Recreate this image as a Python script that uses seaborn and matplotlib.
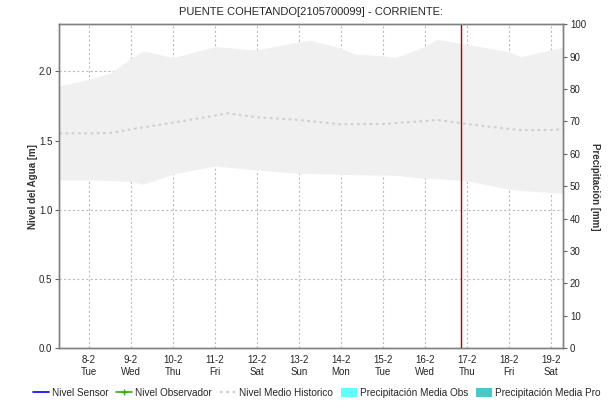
import pandas as pd
import seaborn as sns
import matplotlib.pyplot as plt
import matplotlib.dates as mdates
from matplotlib.lines import Line2D
from matplotlib.patches import Patch

# historical band (min / max) and median water level [m]
band_times = ["2022-02-07 07:00", "2022-02-08 00:00", "2022-02-08 12:00", "2022-02-09 00:00",
              "2022-02-09 07:00", "2022-02-10 00:00", "2022-02-11 00:00", "2022-02-12 00:00",
              "2022-02-13 00:00", "2022-02-13 07:00", "2022-02-14 00:00", "2022-02-14 08:00",
              "2022-02-15 00:00", "2022-02-15 07:00", "2022-02-16 00:00", "2022-02-16 07:00",
              "2022-02-17 00:00", "2022-02-18 00:00", "2022-02-18 07:00", "2022-02-19 00:00",
              "2022-02-19 07:00"]
band_max = [1.895, 1.944, 1.987, 2.095, 2.148, 2.100, 2.180, 2.155, 2.215, 2.225, 2.168,
            2.126, 2.114, 2.100, 2.180, 2.233, 2.196, 2.143, 2.107, 2.155, 2.175]
band_min = [1.216, 1.216, 1.212, 1.204, 1.185, 1.259, 1.317, 1.288, 1.264, 1.262, 1.257,
            1.254, 1.252, 1.250, 1.228, 1.226, 1.210, 1.150, 1.140, 1.125, 1.122]

median_times = ["2022-02-07 07:00", "2022-02-08 00:00", "2022-02-08 12:00", "2022-02-09 00:00",
                "2022-02-10 00:00", "2022-02-11 00:00", "2022-02-11 07:00", "2022-02-12 00:00",
                "2022-02-13 00:00", "2022-02-14 00:00", "2022-02-15 00:00", "2022-02-16 00:00",
                "2022-02-16 07:00", "2022-02-17 00:00", "2022-02-18 00:00", "2022-02-18 07:00",
                "2022-02-19 00:00", "2022-02-19 07:00"]
median_level = [1.553, 1.553, 1.556, 1.582, 1.630, 1.681, 1.698, 1.669, 1.650, 1.618, 1.621,
                1.642, 1.650, 1.621, 1.585, 1.577, 1.577, 1.585]

now_marker = "2022-02-16 20:40"
x_start, x_end = "2022-02-07 07:00", "2022-02-19 07:00"

title = "PUENTE COHETANDO[2105700099] - CORRIENTE:"
legend_labels = ["Nivel Sensor", "Nivel Observador", "Nivel Medio Historico",
                 "Precipitación Media Obs", "Precipitación Media Pro"]


def create_plot():
    sns.set_style("white")
    plt.rcParams['font.family'] = ['Liberation Sans', 'DejaVu Sans']

    band = pd.DataFrame({"time": pd.to_datetime(band_times), "max": band_max, "min": band_min})
    med = pd.DataFrame({"time": pd.to_datetime(median_times), "level": median_level})

    fig = plt.figure(figsize=(6.15, 4.04), dpi=100)
    ax = fig.add_axes([0.0964, 0.1379, 0.819, 0.802])

    ax.fill_between(band["time"], band["min"], band["max"], color="#f0f0f0", lw=0, zorder=1)
    sns.lineplot(data=med, x="time", y="level", ax=ax, color="#cfcfcf", lw=1.5,
                 linestyle=(0, (1.3, 1.7)), zorder=2)
    ax.axvline(pd.Timestamp(now_marker), color="#b00000", lw=1.0, zorder=4)

    ax.set_xlim(pd.Timestamp(x_start), pd.Timestamp(x_end))
    ax.set_ylim(0, 2.341)
    ax.set_yticks([0.0, 0.5, 1.0, 1.5, 2.0])
    ax.set_yticklabels(["0.0", "0.5", "1.0", "1.5", "2.0"])
    ax.xaxis.set_major_locator(mdates.DayLocator())
    ax.xaxis.set_major_formatter(mdates.DateFormatter("%-d-%-m\n%a"))
    ax.xaxis.set_minor_locator(mdates.HourLocator(interval=2))
    ax.grid(True, which="major", color="#bdbdbd", linestyle=(0, (2, 2)), lw=0.8)
    ax.set_axisbelow(True)

    ax.tick_params(axis="x", which="major", length=0, pad=5, labelsize=7)
    ax.tick_params(axis="x", which="minor", length=1.5, color="#606060", width=0.6)
    ax.tick_params(axis="y", length=3, width=0.8, color="#606060", labelsize=7, pad=2)
    ax.set_xlabel("")
    ax.set_ylabel("Nivel del Agua [m]", fontsize=7, fontweight="bold", color="#333333", labelpad=1)

    for s in ax.spines.values():
        s.set_color("#808080")
        s.set_linewidth(1.0)

    ax2 = ax.twinx()
    ax2.set_ylim(0, 100)
    ax2.set_yticks(range(0, 101, 10))
    ax2.tick_params(axis="y", length=3, width=0.8, color="#606060", labelsize=7, pad=2)
    ax2.set_ylabel("Precipitación [mm]", fontsize=7, fontweight="bold", color="#333333",
                   rotation=270, labelpad=10)
    for s in ax2.spines.values():
        s.set_color("#808080")
        s.set_linewidth(1.0)

    ax.set_title(title, fontsize=8, pad=7)

    handles = [
        Line2D([], [], color="#0000ff", lw=1.2),
        Line2D([], [], color="#33aa11", lw=1.2, marker="+", markersize=4),
        Line2D([], [], color="#cfcfcf", lw=1.5, linestyle=(0, (1.3, 1.7))),
        Patch(facecolor="#60ffff", edgecolor="none"),
        Patch(facecolor="#48c8c8", edgecolor="none"),
    ]
    fig.legend(handles, legend_labels, loc="center", bbox_to_anchor=(0.515, 0.027), ncol=5,
               frameon=False, fontsize=7.2, handlelength=1.6, handletextpad=0.3,
               columnspacing=0.8, handleheight=1.0)

    fig.savefig("out.png", dpi=100)


if __name__ == "__main__":
    create_plot()
